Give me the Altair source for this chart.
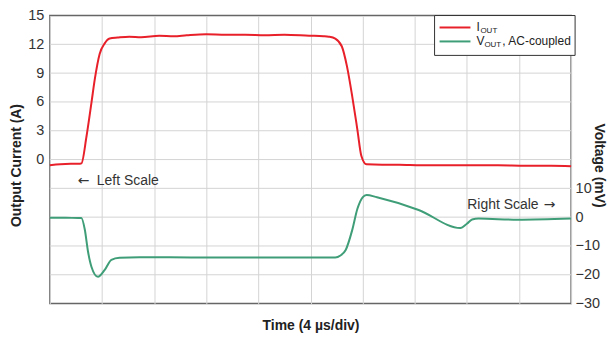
import altair as alt
import pandas as pd

# ---- data ----
iout_t = [0.0, 0.8, 1.6, 2.2, 2.42, 2.81, 3.19, 3.44, 3.82, 4.21, 4.59, 5.2, 6.1, 7.0, 8.4,
          9.5, 10.5, 12.0, 13.5, 15.0, 16.5, 18.0, 19.9, 21.0, 21.4, 21.9, 22.4, 22.8, 23.2,
          23.6, 23.9, 24.3, 25.5, 26.8, 28.5, 30.6, 32.5, 34.4, 36.5, 38.5, 40.0]
iout_a = [-0.6, -0.5, -0.45, -0.45, -0.4, 2.4, 5.9, 8.3, 11.0, 12.1, 12.6, 12.7, 12.8, 12.75, 12.9,
          12.85, 12.95, 13.05, 13.0, 13.0, 12.95, 13.0, 12.9, 12.85, 12.8, 12.6, 11.8, 9.7, 6.6,
          3.1, 0.4, -0.5, -0.55, -0.55, -0.6, -0.6, -0.6, -0.6, -0.65, -0.65, -0.7]

vout_t = [0.0, 1.2, 2.2, 2.42, 2.68, 2.93, 3.19, 3.69, 4.21, 4.72, 5.35, 6.88, 11.47, 17.6,
          21.9, 22.3, 22.7, 23.2, 23.6, 24.0, 24.3, 25.1, 28.3, 31.5, 32.0, 32.4, 32.9, 35.9, 40.0]
vout_mv = [-0.2, -0.2, -0.3, -0.3, -4.3, -12.0, -17.2, -20.7, -18.3, -14.8, -14.1, -13.9, -14.0, -14.0,
           -14.0, -13.3, -11.4, -4.5, 2.9, 6.9, 7.7, 6.9, 2.5, -3.8, -2.3, -0.8, -0.5, -0.9, -0.5]

left_grid = [-12, -9, -6, -3, 0, 3, 6, 9, 12]
left_labels = [0, 3, 6, 9, 12, 15]
right_ticks = [-30, -20, -10, 0, 10]
time_grid = [0, 4, 8, 12, 16, 20, 24, 28, 32, 36, 40]

left_note = ["Left Scale"]
left_note_t = [3.6]
left_arrow_t = [2.14]
left_note_a = [-2.2]
right_note = ["Right Scale"]
right_note_t = [37.5]
right_arrow_t = [38.8]
right_note_mv = [4.1]

RED = "#e8202a"
GREEN = "#3f9e78"
FONT = "Liberation Sans"
GRID = "#d4d4d4"

df_i = pd.DataFrame({"t": iout_t, "a": iout_a})
df_v = pd.DataFrame({"t": vout_t, "mv": vout_mv})

x_enc = alt.X("t:Q", scale=alt.Scale(domain=[0, 40], nice=False, zero=False),
              axis=alt.Axis(values=time_grid, grid=True, labels=False, ticks=False, domain=False,
                            title="Time (4 µs/div)", titleY=15, titleBaseline="top"))

left_scale = alt.Scale(domain=[-15, 15], nice=False, zero=False)
left_axis = alt.Axis(values=left_labels, labelOverlap=False, labelFlush=False,
                     grid=False, ticks=False, domain=False, labelPadding=6,
                     title="Output Current (A)", titleAngle=270, titleX=-26, titleY=150,
                     titleBaseline="bottom", titleAlign="center")

y_right = alt.Y("mv:Q", scale=alt.Scale(domain=[-30, 70], nice=False, zero=False),
                axis=alt.Axis(orient="right", values=right_ticks, grid=False, ticks=False,
                              labelOverlap=False, labelFlush=False,
                              domain=False, labelPadding=4,
                              title="Voltage (mV)", titleAngle=90, titleX=20, titleY=150,
                              titleBaseline="bottom", titleAlign="center"))

hgrid = alt.Chart(pd.DataFrame({"a": left_grid})).mark_rule(color=GRID, strokeWidth=1).encode(
    y=alt.Y("a:Q", scale=left_scale, axis=left_axis))
red = alt.Chart(df_i).mark_line(color=RED, strokeWidth=2, interpolate="monotone").encode(
    x=x_enc, y=alt.Y("a:Q", scale=left_scale, axis=left_axis))
lt = alt.Chart(pd.DataFrame({"t": left_note_t, "a": left_note_a, "s": left_note})).mark_text(
    align="left", baseline="middle", fontSize=14, color="#333", font=FONT
).encode(x=alt.X("t:Q"), y=alt.Y("a:Q"), text="s:N")
la = alt.Chart(pd.DataFrame({"t": left_arrow_t, "a": left_note_a})).mark_text(
    align="left", baseline="middle", fontSize=14, color="#333", font="DejaVu Sans"
).encode(x=alt.X("t:Q"), y=alt.Y("a:Q"), text=alt.value("←"))

green = alt.Chart(df_v).mark_line(color=GREEN, strokeWidth=2, interpolate="monotone").encode(x=alt.X("t:Q"), y=y_right)
rt = alt.Chart(pd.DataFrame({"t": right_note_t, "mv": right_note_mv, "s": right_note})).mark_text(
    align="right", baseline="middle", fontSize=14, color="#333", font=FONT
).encode(x=alt.X("t:Q"), y=alt.Y("mv:Q"), text="s:N")
ra = alt.Chart(pd.DataFrame({"t": right_arrow_t, "mv": right_note_mv})).mark_text(
    align="right", baseline="middle", fontSize=14, color="#333", font="DejaVu Sans"
).encode(x=alt.X("t:Q"), y=alt.Y("mv:Q"), text=alt.value("→"))

# manual legend (subscripted labels)
one = pd.DataFrame({"k": [0]})
box = alt.Chart(one).mark_rect(fill="white", stroke="#333", strokeWidth=1).encode(
    x=alt.value(386), x2=alt.value(527), y=alt.value(0), y2=alt.value(40))
leg_red = alt.Chart(one).mark_rule(color=RED, strokeWidth=2).encode(
    x=alt.value(391), x2=alt.value(422), y=alt.value(12))
leg_green = alt.Chart(one).mark_rule(color=GREEN, strokeWidth=2).encode(
    x=alt.value(391), x2=alt.value(422), y=alt.value(26))

def txt(s, x, y, size):
    return alt.Chart(one).mark_text(align="left", baseline="alphabetic", fontSize=size,
                                    color="#222", font=FONT).encode(
        x=alt.value(x), y=alt.value(y), text=alt.value(s))

legend = [box, leg_red, leg_green,
          txt("I", 428, 16, 12), txt("OUT", 432, 18, 8),
          txt("V", 428, 30, 12), txt("OUT", 436, 32, 8), txt(", AC-coupled", 454, 30, 12)]

chart = alt.layer(
    alt.layer(hgrid, red, lt, la),
    alt.layer(green, rt, ra),
    *legend
).resolve_scale(y="independent").properties(
    width=523, height=289,
    autosize=alt.AutoSizeParams(type="none"),
    padding={"left": 42, "top": 7, "right": 36, "bottom": 36},
).configure(font=FONT).configure_view(
    stroke="#666", strokeWidth=1.5
).configure_axis(
    labelFont=FONT, titleFont=FONT, labelFontSize=14.5, labelColor="#333",
    titleFontSize=14, titleFontWeight="bold", titleColor="#222",
    gridColor=GRID, gridWidth=1
)

chart.save("out.html", embed_options={"renderer": "svg", "actions": False})
